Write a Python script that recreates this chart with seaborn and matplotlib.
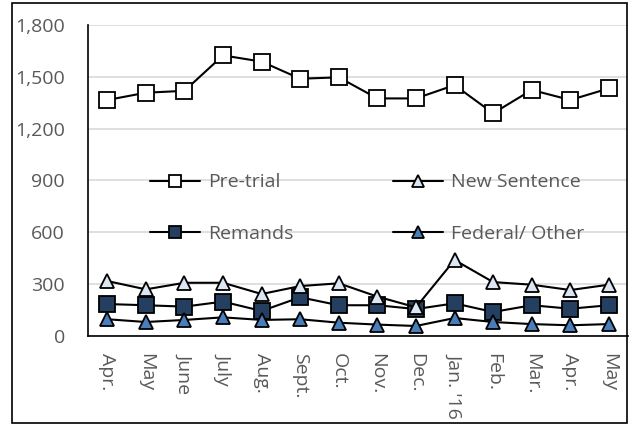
import matplotlib
matplotlib.use("Agg")
import matplotlib.pyplot as plt
import seaborn as sns
import pandas as pd
from matplotlib.patches import Rectangle
from matplotlib.ticker import FuncFormatter

# Données
months = ["Apr.", "May", "June", "July", "Aug.", "Sept.", "Oct.", "Nov.",
          "Dec.", "Jan. '16", "Feb.", "Mar.", "Apr.", "May"]
pre_trial = [1366, 1408, 1419, 1624, 1588, 1489, 1497, 1375, 1375, 1452, 1289, 1424, 1366, 1433]
new_sentence = [318, 270, 308, 308, 243, 289, 305, 228, 166, 440, 312, 297, 266, 297]
remands = [185, 178, 170, 199, 145, 224, 178, 178, 156, 189, 139, 178, 158, 178]
federal_other = [97, 81, 93, 108, 93, 97, 77, 66, 58, 104, 81, 69, 62, 69]

series = {
    "Pre-trial": (pre_trial, "s", "white", 11),
    "Remands": (remands, "s", "#243f60", 11),
    "New Sentence": (new_sentence, "^", "#dce6f2", 10),
    "Federal/ Other": (federal_other, "^", "#4a7ebb", 10),
}

sns.set_style("white")
plt.rcParams["font.family"] = ["Open Sans", "DejaVu Sans"]
text_gray = "#595959"

fig = plt.figure(figsize=(6.34, 4.25), dpi=100)
ax = fig.add_axes([0.1388, 0.2094, 0.852, 0.7318])

for name, (vals, mk, col, ms) in series.items():
    df = pd.DataFrame({"idx": range(len(vals)), "val": vals})
    sns.lineplot(data=df, x="idx", y="val", ax=ax, color="black", linewidth=1.5,
                 marker=mk, markersize=ms, markerfacecolor=col,
                 markeredgecolor="black", markeredgewidth=1.3, label=name)

ax.set_xlim(-0.5, len(months) - 0.5)
ax.set_ylim(0, 1800)
ax.set_yticks(range(0, 1801, 300))
ax.yaxis.set_major_formatter(FuncFormatter(lambda v, p: f"{int(v):,}"))
ax.set_xticks(range(len(months)))
ax.set_xticklabels(months, rotation=270)
ax.tick_params(axis="y", length=0, pad=16.5, labelsize=14, labelcolor=text_gray)
ax.tick_params(axis="x", length=0, pad=12, labelsize=14, labelcolor=text_gray)
ax.set_xlabel("")
ax.set_ylabel("")

ax.grid(axis="y", color="#d9d9d9", linewidth=1.2)
ax.set_axisbelow(True)
for s in ["top", "right"]:
    ax.spines[s].set_visible(False)
ax.spines["left"].set_color("black")
ax.spines["bottom"].set_color("black")
ax.spines["left"].set_linewidth(1.2)
ax.spines["bottom"].set_linewidth(1.2)

leg = ax.legend(ncol=2, loc="upper left", bbox_to_anchor=(0.115, 0.523),
                frameon=False, fontsize=14, handlelength=2.58, handletextpad=0.41,
                labelspacing=1.72, columnspacing=5.1, borderpad=0, borderaxespad=0,
                markerscale=0.85)
for t in leg.get_texts():
    t.set_color(text_gray)

# cadre extérieur
fig.add_artist(Rectangle((0.019, 0.005), 0.97, 0.988, transform=fig.transFigure,
                         fill=False, edgecolor="black", linewidth=1.2))

fig.savefig("out.png", dpi=100)
